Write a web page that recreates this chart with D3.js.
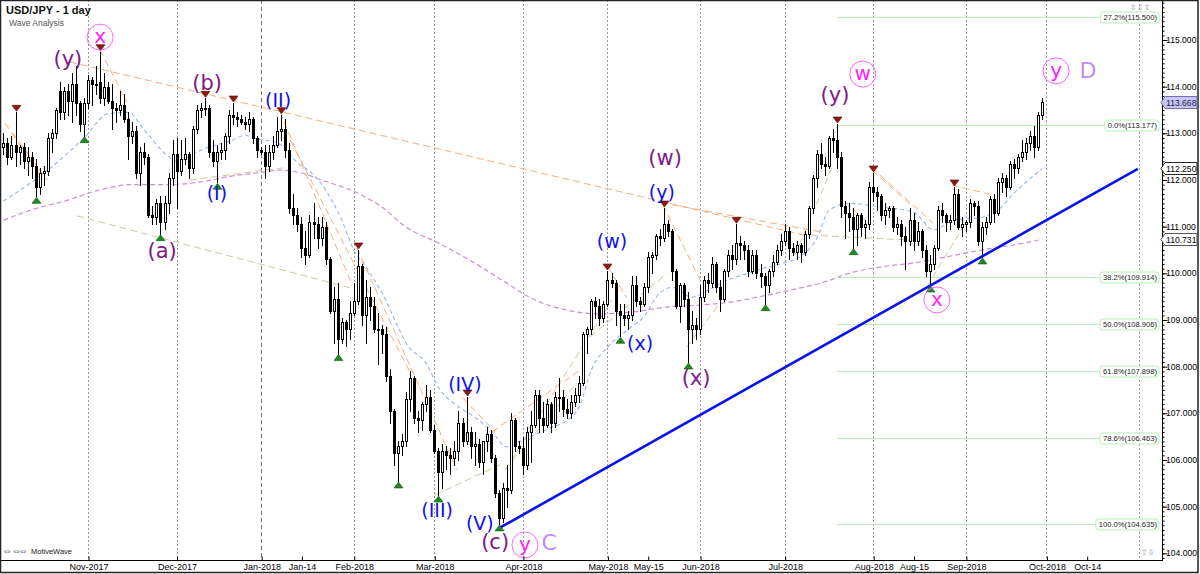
<!DOCTYPE html>
<html><head><meta charset="utf-8">
<script src="https://cdn.jsdelivr.net/npm/d3@7"></script>
<style>
body{margin:0;background:#fff;}
svg{display:block;font-family:"Liberation Sans",Arial,sans-serif;}
</style>
</head><body>
<svg id="c" width="1200" height="574"></svg>
<script>
// ---------------- DATA ----------------
const firstBarDate = "2017-10-03"; // bars are consecutive weekdays from here
const opens = [
// Oct 2017
112.70,112.80,112.50,112.75,112.60,112.70,112.40,112.50,112.30,111.85,112.15,112.20,112.90,113.00,113.90,113.45,113.90,113.70,114.05,113.65,113.20,
// Nov
113.65,114.15,114.05,114.10,113.75,114.00,113.70,113.55,113.50,113.60,113.30,112.95,113.05,112.15,112.60,112.50,111.25,111.20,111.50,111.10,111.50,112.05,
// Dec
112.55,112.20,112.45,112.55,112.25,113.10,113.50,113.55,113.55,112.60,112.40,112.60,112.65,112.95,113.40,113.35,113.30,113.25,113.20,113.30,112.90,
// Jan 2018
112.65,112.60,112.30,112.60,112.75,113.05,113.10,112.65,111.40,111.25,111.05,110.55,110.40,111.10,111.05,110.75,111.00,110.30,109.20,109.45,108.60,108.95,108.80,
// Feb
109.15,109.40,110.15,109.10,109.50,109.30,108.80,108.80,108.70,107.80,107.05,106.15,106.30,106.40,107.30,107.75,106.90,106.85,107.20,107.35,
// Mar
106.65,106.20,105.75,106.20,106.10,106.05,106.20,106.80,106.40,106.60,106.30,106.35,105.95,106.40,106.55,106.05,105.30,104.75,105.40,105.35,106.85,106.30,
// Apr
106.25,105.90,106.60,106.75,107.40,106.90,106.75,107.20,106.80,107.35,107.35,107.10,107.00,107.25,107.40,107.65,108.70,108.80,109.40,109.30,109.05,
// May
109.35,109.85,109.80,109.20,109.10,109.05,109.10,109.75,109.40,109.35,109.70,110.35,110.40,110.80,110.75,111.05,110.90,110.05,109.30,109.75,109.45,108.80,108.90,
// Jun
108.80,109.50,109.85,109.80,110.20,109.70,109.45,110.05,110.40,110.30,110.65,110.60,110.50,110.05,110.40,110.00,109.95,109.75,110.05,110.25,110.50,
// Jul
110.70,110.90,110.55,110.45,110.60,110.45,110.85,111.40,112.05,112.55,112.35,112.30,112.90,112.85,112.50,111.45,111.30,111.20,110.95,111.25,111.00,111.05,
// Aug
111.85,111.75,111.65,111.25,111.35,111.40,111.00,111.05,110.80,110.70,111.15,110.70,110.90,110.50,110.05,110.20,110.55,111.35,111.25,111.10,111.15,111.70,111.00,
// Sep
111.05,111.10,111.50,111.45,110.70,111.00,111.10,111.60,111.30,111.95,112.05,111.85,112.35,112.25,112.50,112.60,112.80,112.95,112.70,113.40
];
const highs = [
113.00,112.90,112.95,113.45,112.75,112.80,112.70,112.60,112.45,112.25,112.30,113.00,113.10,113.55,114.10,114.00,114.05,114.30,114.45,113.70,113.75,
114.25,114.20,114.45,114.75,114.30,114.10,114.05,113.65,113.90,113.85,113.45,113.25,113.15,112.70,112.80,112.55,111.45,111.60,111.65,111.65,112.15,112.85,
112.90,112.85,112.90,112.60,113.15,113.60,113.65,113.75,113.60,112.85,112.75,112.80,113.00,113.50,113.65,113.45,113.40,113.35,113.45,113.35,112.95,
112.70,112.75,112.75,112.95,113.35,113.40,113.30,112.80,111.70,111.40,111.20,110.90,111.25,111.50,111.20,111.20,111.10,110.35,109.70,109.80,109.05,109.00,109.40,
109.80,110.50,110.20,109.85,109.70,109.50,109.15,108.90,108.85,107.95,107.10,106.40,106.55,107.45,107.90,107.80,107.05,107.25,107.60,107.50,
106.75,106.25,106.35,106.30,106.25,106.40,107.05,106.90,107.35,106.70,106.60,106.45,106.40,106.70,106.65,106.10,105.35,105.50,105.90,107.00,106.90,106.40,
106.50,106.70,107.05,107.50,107.50,107.25,107.30,107.25,107.45,107.75,107.50,107.30,107.40,107.55,107.80,108.75,108.85,109.45,109.50,109.45,109.40,
110.05,110.00,109.85,109.35,109.35,109.20,109.95,109.95,109.50,109.80,110.45,110.45,110.85,110.95,111.40,111.15,110.95,110.10,109.80,109.80,109.60,109.20,109.05,
109.75,109.95,110.00,110.35,110.25,109.85,110.10,110.50,110.60,111.05,110.80,110.70,110.60,110.50,110.50,110.20,110.00,110.10,110.40,110.60,110.85,
111.05,111.00,110.65,110.70,110.65,110.90,111.45,112.10,112.65,112.80,112.50,112.95,113.10,113.20,112.60,111.55,111.50,111.40,111.30,111.30,111.15,111.95,
112.15,111.85,111.70,111.50,111.45,111.45,111.20,111.15,111.00,111.40,111.30,111.10,110.95,110.60,110.40,110.60,111.45,111.50,111.30,111.25,111.85,111.80,111.20,
111.15,111.60,111.55,111.55,111.10,111.20,111.65,111.70,112.05,112.15,112.10,112.40,112.45,112.55,112.85,112.90,113.05,113.15,113.45,113.75
];
const lows = [
112.55,112.35,112.45,112.30,112.35,112.25,112.10,112.05,111.65,111.70,111.90,112.10,112.60,112.90,113.30,113.30,113.40,113.25,113.40,113.05,112.95,
113.55,113.60,113.85,113.65,113.60,113.65,113.10,113.25,113.40,113.25,112.45,112.80,112.05,111.90,112.35,111.20,111.05,111.05,110.85,110.95,111.30,111.90,
111.40,112.10,112.35,112.05,112.15,113.00,113.35,113.40,112.50,112.30,111.95,112.45,112.45,112.80,113.20,113.15,113.20,113.10,113.05,112.80,112.50,
112.55,112.05,112.20,112.45,112.70,112.85,112.50,111.30,111.05,110.90,110.35,110.20,110.35,110.75,110.55,110.60,110.20,109.15,108.50,108.28,108.50,108.45,108.60,
109.10,109.35,108.90,108.50,109.00,108.75,108.05,108.30,107.70,106.80,105.90,105.55,106.10,106.30,107.05,106.80,106.60,106.65,107.05,106.60,
106.15,105.25,105.40,105.80,105.70,105.90,106.00,106.30,106.35,106.05,105.90,105.85,105.70,106.20,105.95,105.20,104.63,104.68,105.00,105.30,106.20,106.15,
105.70,105.80,105.95,106.70,106.60,106.60,106.70,106.60,106.70,107.05,106.95,106.90,106.90,107.15,107.25,107.60,108.30,108.70,109.05,108.90,108.95,
109.30,109.70,108.90,108.65,108.90,108.80,109.00,109.30,109.20,109.30,109.60,110.00,110.30,110.60,110.70,110.80,109.85,109.25,108.95,109.30,108.10,108.50,108.60,
108.70,109.40,109.60,109.70,109.60,109.20,109.40,109.95,110.10,110.20,110.30,110.30,109.95,110.00,109.90,109.70,109.35,109.60,109.95,110.20,110.40,
110.60,110.30,110.40,110.30,110.25,110.40,110.75,111.30,111.85,112.25,112.10,112.25,112.60,112.25,111.20,110.75,110.90,110.55,110.60,110.80,110.75,110.95,
111.55,111.35,111.15,111.05,111.20,110.90,110.85,110.60,110.10,110.60,110.50,110.60,110.35,109.95,109.75,110.10,110.50,111.10,110.90,110.95,111.05,110.95,110.80,
110.90,111.00,111.25,110.60,110.35,110.85,111.05,111.10,111.25,111.75,111.65,111.80,112.05,112.15,112.40,112.45,112.65,112.50,112.65,113.30
];
const closes = [
112.80,112.50,112.75,112.60,112.70,112.40,112.50,112.30,111.85,112.15,112.20,112.90,113.00,113.50,113.45,113.90,113.70,114.05,113.65,113.20,113.65,
114.15,114.05,114.05,113.75,114.00,113.70,113.55,113.50,113.60,113.30,112.95,113.05,112.15,112.60,112.50,111.25,111.20,111.50,111.10,111.50,112.05,112.55,
112.20,112.45,112.55,112.25,113.10,113.50,113.55,113.55,112.60,112.40,112.60,112.65,112.95,113.40,113.35,113.30,113.25,113.20,113.30,112.90,112.65,
112.60,112.30,112.60,112.75,113.05,113.10,112.65,111.40,111.25,111.05,110.55,110.40,111.10,111.05,110.75,111.00,110.30,109.20,109.45,108.60,108.95,108.80,109.15,
109.40,110.15,109.10,109.50,109.30,108.80,108.80,108.70,107.80,107.05,106.15,106.30,106.40,107.30,107.75,106.90,106.85,107.20,107.35,106.65,
106.20,105.75,106.20,106.10,106.05,106.20,106.80,106.40,106.60,106.30,106.35,105.95,106.40,106.55,106.05,105.30,104.75,105.40,105.35,106.85,106.30,106.25,
105.90,106.60,106.75,107.40,106.90,106.75,107.20,106.80,107.35,107.35,107.10,107.00,107.25,107.40,107.65,108.70,108.80,109.40,109.30,109.05,109.35,
109.85,109.80,109.20,109.10,109.05,109.10,109.75,109.40,109.35,109.70,110.35,110.40,110.80,110.75,111.05,110.90,110.05,109.30,109.75,109.45,108.80,108.90,108.80,
109.50,109.85,109.80,110.20,109.70,109.45,110.05,110.40,110.30,110.65,110.60,110.50,110.05,110.40,110.00,109.95,109.75,110.05,110.25,110.50,110.70,
110.90,110.55,110.45,110.60,110.45,110.85,111.40,112.05,112.55,112.35,112.30,112.90,112.85,112.50,111.45,111.30,111.20,110.95,111.25,111.00,111.05,111.85,
111.75,111.65,111.25,111.35,111.40,111.00,111.05,110.80,110.70,111.15,110.70,110.90,110.50,110.05,110.20,110.55,111.35,111.25,111.10,111.15,111.70,111.00,111.05,
111.10,111.50,111.45,110.70,111.00,111.10,111.60,111.30,111.95,112.05,111.85,112.35,112.25,112.50,112.60,112.80,112.95,112.70,113.40,113.67
];

// moving averages (bar number, value)
const fastMaBars   = [0,12,20,26,31,35,41,43,49,57,60,63,68,74,75,80,84,87,90,94,98,100,105,108,113,117,121,125,129,133,136,140,143,146,150,155,159,163,166,171,175,180,185,190,193,199,202,205,210,218,226,231,236,243,247,251,258];
const fastMaValues = [111.55,112.28,112.90,113.42,113.45,113.07,112.50,112.40,112.64,112.86,112.96,112.88,112.80,112.30,112.25,111.79,111.14,110.50,110.14,109.58,108.85,108.50,108.07,107.56,107.14,106.92,106.64,106.28,106.43,106.58,106.70,106.85,107.14,107.93,108.42,108.79,109.07,109.58,109.70,109.49,109.64,109.86,110.00,110.14,110.20,110.43,110.75,111.35,111.50,111.42,111.31,110.93,111.14,111.20,111.36,111.72,112.25];
const slowMaBars   = [0,7,16,24,32,41,49,57,63,69,74,79,88,94,100,108,117,125,131,140,148,156,165,173,181,190,198,203,210,218,226,234,243,251,258];
const slowMaValues = [111.14,111.36,111.57,111.79,111.90,111.90,111.96,112.09,112.15,112.21,112.15,112.00,111.72,111.42,110.99,110.65,110.22,109.79,109.47,109.21,109.13,109.17,109.28,109.32,109.39,109.54,109.69,109.79,110.00,110.14,110.22,110.35,110.50,110.61,110.73];

// swing markers (dates of bars)
const swingHighDates = ["2017-10-06","2017-11-06","2017-12-12","2017-12-21","2018-01-08","2018-02-02","2018-03-13","2018-05-01","2018-05-21","2018-06-14","2018-07-19","2018-08-01","2018-08-29"];
const swingLowDates  = ["2017-10-13","2017-10-31","2017-11-27","2017-12-15","2018-01-26","2018-02-16","2018-03-02","2018-03-23","2018-05-04","2018-05-29","2018-06-25","2018-07-25","2018-08-21","2018-09-07"];

// bottom axis
const tickDates  = ["2017-11-01","2017-12-01","2018-01-01","2018-01-14","2018-02-01","2018-03-01","2018-04-01","2018-05-01","2018-05-15","2018-06-01","2018-07-01","2018-08-01","2018-08-15","2018-09-01","2018-10-01","2018-10-14"];
const tickLabels = ["Nov-2017","Dec-2017","Jan-2018","Jan-14","Feb-2018","Mar-2018","Apr-2018","May-2018","May-15","Jun-2018","Jul-2018","Aug-2018","Aug-15","Sep-2018","Oct-2018","Oct-14"];
const monthStarts = ["2017-11-01","2017-12-01","2018-01-01","2018-02-01","2018-03-01","2018-04-01","2018-05-01","2018-06-01","2018-07-01","2018-08-01","2018-09-01","2018-10-01","2018-11-01"];
const priceTicks = [104,105,106,107,108,109,110,111,112,113,114,115];

// fibonacci
const fibStartDate = "2018-07-19";
const fibNames  = ["27.2%","0.0%","38.2%","50.0%","61.8%","78.6%","100.0%"];
const fibLevels = [115.500,113.177,109.914,108.906,107.898,106.463,104.635];

// price tags
const tagValues = [113.668,112.250,110.731];

// wave lines: [barIndexFrom, priceFrom, barIndexTo, priceTo]
const orangeLines = [
 [17.5,114.53,200.8,110.80],[164.5,111.51,203.8,110.89],[69.7,113.46,87.6,109.75],[72.2,112.86,101.9,107.89],
 [88.8,110.54,113.6,105.79],[115.1,107.33,123.1,106.60],[122.3,106.60,144.9,107.97],[25,114.79,31.7,113.65],
 [216.7,112.26,231.8,111.08],[236.5,111.89,246.7,111.68],[1.4,113.22,10.8,112.0],[3.4,113.0,11.8,112.0],
 [164.8,111.46,174,109.86],[151.1,110.14,155.8,109.47],[210,111.53,215.7,111.08],[216.7,112.21,226.9,111.42]
];
const tanLines = [
 [19.3,111.23,87.1,109.69],[47.3,112.0,70.4,112.26],[108.2,105.25,124.3,105.9],[125.6,105.79,152.1,109.43],
 [127.5,106.0,143.4,107.65],[170.7,108.42,178.9,109.36],[201.3,110.82,226.9,110.71],[197.6,110.39,207,112.32],
 [230.3,109.71,240.3,111.14],[146.7,108.64,165.8,110.0]
];
const trendLine = [124.3,104.55,282.7,112.24];

// wave labels: text, barIndex, price, colour key
const waveText   = ["(y)","x","(b)","(II)","(I)","(a)","(IV)","(III)","(V)","(c)","y","C","(w)","(x)","(y)","(w)","(x)","(y)","w","x","y","D"];
const waveBar    = [17.0,25.0,51.6,69.2,54.0,40.4,115.6,108.7,119.3,123.1,130.5,136.5,152.1,159.1,164.5,165.3,173.0,207.5,214.4,232.8,262.4,270.3];
const wavePrice  = [114.59,115.06,114.08,113.71,111.72,110.48,107.63,104.93,104.65,104.24,104.18,104.24,110.69,108.51,111.74,112.47,107.76,113.82,114.27,109.43,114.34,114.34];
const waveKind   = ["p","m","p","b","b","p","b","b","b","p","m","l","b","b","b","p","p","p","m","m","m","l"];

// ---------------- CHART ----------------
const svg = d3.select("#c");
const plotR = 1162, plotB = 560;
const barW = 4.027;
const x = d3.scaleLinear().domain([0, 1]).range([-0.6, -0.6 + barW]);
const y = d3.scaleLinear().domain([115, 104]).range([40, 553.33]);

const base = Date.UTC(2017, 9, 2);
function gOf(s) {
  const [Y, M, D] = s.split("-").map(Number);
  const t = Date.UTC(Y, M - 1, D);
  let n = 0;
  for (let d = base; d < t; d += 864e5) { const wd = new Date(d).getUTCDay(); if (wd !== 0 && wd !== 6) n++; }
  return n;
}
const g0 = gOf(firstBarDate);
const bars = opens.map((o, i) => ({ g: g0 + i, o, h: highs[i], l: lows[i], c: closes[i] }));

svg.append("rect").attr("width", 1200).attr("height", 574).attr("fill", "#fff");

svg.append("defs").append("clipPath").attr("id", "pc")
  .append("rect").attr("x", 0).attr("y", 0).attr("width", plotR).attr("height", plotB);
const plot = svg.append("g").attr("clip-path", "url(#pc)");

// month gridlines
plot.selectAll("line.grid").data(monthStarts).join("line")
  .attr("x1", d => Math.round(x(gOf(d))) + 0.5).attr("x2", d => Math.round(x(gOf(d))) + 0.5)
  .attr("y1", 0).attr("y2", plotB)
  .attr("stroke", d => d === "2018-01-01" ? "#777" : "#9a9a9a")
  .attr("stroke-dasharray", d => d === "2018-01-01" ? "4,3" : "2,2");

// fib lines
const fx0 = x(gOf(fibStartDate));
plot.selectAll("line.fib").data(fibLevels).join("line")
  .attr("x1", fx0).attr("x2", 1140)
  .attr("y1", d => Math.round(y(d)) + 0.5).attr("y2", d => Math.round(y(d)) + 0.5)
  .attr("stroke", "#b9efb9").attr("stroke-width", 1);

// moving averages
const maLine = d3.line().x(d => x(d[0] + 1)).y(d => y(d[1])).curve(d3.curveMonotoneX);
plot.append("path").datum(slowMaBars.map((b, i) => [b, slowMaValues[i]]))
  .attr("d", maLine).attr("fill", "none").attr("stroke", "#cc8fd0").attr("stroke-width", 1.2).attr("stroke-dasharray", "5,3");
plot.append("path").datum(fastMaBars.map((b, i) => [b, fastMaValues[i]]))
  .attr("d", maLine).attr("fill", "none").attr("stroke", "#93b2f5").attr("stroke-width", 1.1).attr("stroke-dasharray", "4,3");

// wave lines
function segs(arr, col) {
  plot.append("g").selectAll("line").data(arr).join("line")
    .attr("x1", d => x(d[0])).attr("y1", d => y(d[1]))
    .attr("x2", d => x(d[2])).attr("y2", d => y(d[3]))
    .attr("stroke", col).attr("stroke-width", 1).attr("stroke-dasharray", "7,4");
}
segs(tanLines, "#cfc79a");
segs(orangeLines, "#f6ad7c");

// candles
const cg = plot.append("g");
bars.forEach(b => {
  const cx = Math.round(x(b.g));
  cg.append("line").attr("x1", cx + 0.5).attr("x2", cx + 0.5)
    .attr("y1", Math.round(y(b.h))).attr("y2", Math.round(y(b.l)) + 1)
    .attr("stroke", "#000").attr("stroke-width", 1);
  const ty = Math.round(y(Math.max(b.o, b.c))), by = Math.round(y(Math.min(b.o, b.c)));
  if (b.c >= b.o) {
    cg.append("rect").attr("x", cx - 0.5).attr("y", ty + 0.5).attr("width", 2).attr("height", Math.max(by - ty, 1))
      .attr("fill", "#fff").attr("stroke", "#000").attr("stroke-width", 1);
  } else {
    cg.append("rect").attr("x", cx - 1).attr("y", ty).attr("width", 3).attr("height", Math.max(by - ty, 1) + 1)
      .attr("fill", "#000");
  }
});

// trend line
plot.append("line")
  .attr("x1", x(trendLine[0])).attr("y1", y(trendLine[1]))
  .attr("x2", x(trendLine[2])).attr("y2", y(trendLine[3]))
  .attr("stroke", "#0a14e6").attr("stroke-width", 2.6);

// swing markers
const byG = new Map(bars.map(b => [b.g, b]));
swingHighDates.forEach(d => {
  const b = byG.get(gOf(d)); const cx = Math.round(x(b.g)) + 0.5, yy = y(b.h) - 1;
  plot.append("path").attr("d", `M${cx - 4.5},${yy - 6}L${cx + 4.5},${yy - 6}L${cx},${yy}Z`)
    .attr("fill", "#8b1a10").attr("stroke", "#5a0a05").attr("stroke-width", 0.6);
});
swingLowDates.forEach(d => {
  const b = byG.get(gOf(d)); const cx = Math.round(x(b.g)) + 0.5, yy = y(b.l) + 1;
  plot.append("path").attr("d", `M${cx - 4.5},${yy + 6}L${cx + 4.5},${yy + 6}L${cx},${yy}Z`)
    .attr("fill", "#1f8a1f").attr("stroke", "#0b5a0b").attr("stroke-width", 0.6);
});

// wave labels
const kindCol = { p: "#7d1a86", b: "#1010f0", m: "#ff22ff", l: "#bf8cf2" };
const kindSize = { p: 21, b: 19, m: 20, l: 22 };
waveText.forEach((t, i) => {
  const k = waveKind[i], lx = x(waveBar[i]), ly = y(wavePrice[i]);
  if (k === "m") {
    plot.append("circle").attr("cx", lx).attr("cy", ly).attr("r", 13)
      .attr("fill", "none").attr("stroke", "#ff66ff").attr("stroke-width", 1);
  }
  plot.append("text").attr("x", lx).attr("y", ly).attr("dy", k === "m" ? "0.3em" : "0.35em")
    .attr("text-anchor", "middle").attr("font-family", "DejaVu Sans, sans-serif")
    .attr("font-size", kindSize[k]).attr("fill", kindCol[k]).text(t);
});

// fib labels
fibLevels.forEach((lv, i) => {
  const yy = Math.round(y(lv)) + 0.5;
  const t = svg.append("text").attr("x", 1157).attr("y", yy).attr("dy", "0.33em").attr("text-anchor", "end")
    .attr("font-size", 7.6).attr("fill", "#222").text(`${fibNames[i]}(${lv.toFixed(3)})`);
  const w = t.node().getComputedTextLength();
  svg.insert("rect", () => t.node()).attr("x", 1157 - w - 3).attr("y", yy - 5.5).attr("width", w + 5).attr("height", 11)
    .attr("rx", 3).attr("fill", "#fff").attr("stroke", "#b9efb9").attr("stroke-width", 1);
});

// axes
const yMinor = d3.axisRight(y).tickValues(d3.range(1039, 1159).map(v => v / 10)).tickSize(2).tickSizeOuter(0).tickFormat("");
const yMajor = d3.axisRight(y).tickValues(priceTicks).tickSize(5).tickSizeOuter(0).tickFormat("");
const ay1 = svg.append("g").attr("transform", `translate(${plotR + 0.5},0)`).call(yMinor);
const ay2 = svg.append("g").attr("transform", `translate(${plotR + 0.5},0)`).call(yMajor);
[ay1, ay2].forEach(a => { a.select(".domain").remove(); a.selectAll("line").attr("stroke", "#000"); });
svg.append("g").selectAll("text").data(priceTicks).join("text")
  .attr("x", plotR + 4).attr("y", d => y(d)).attr("dy", "0.35em").attr("font-size", 8.6).attr("fill", "#000")
  .text(d => d3.format(".3f")(d));

const ax = d3.axisBottom(x).tickValues(tickDates.map(gOf)).tickFormat((d, i) => tickLabels[i])
  .tickSizeInner(-4).tickSizeOuter(0).tickPadding(3);
const axg = svg.append("g").attr("transform", `translate(0.5,${plotB + 0.5})`).call(ax);
axg.select(".domain").remove();
axg.selectAll("line").attr("stroke", "#000");
axg.selectAll("text").attr("font-size", 9).attr("fill", "#000").attr("font-family", "Liberation Sans, Arial, sans-serif");

// frame lines
svg.append("line").attr("x1", 0).attr("x2", plotR + 1).attr("y1", plotB + 0.5).attr("y2", plotB + 0.5).attr("stroke", "#000");
svg.append("line").attr("x1", plotR + 0.5).attr("x2", plotR + 0.5).attr("y1", 0).attr("y2", plotB + 1).attr("stroke", "#000");
svg.append("rect").attr("x", 0.5).attr("y", 0.5).attr("width", 1197.5).attr("height", 572).attr("fill", "none").attr("stroke", "#222").attr("stroke-width", 1.5);

// price tags
tagValues.forEach((v, i) => {
  const yy = Math.round(y(v)) + 0.5;
  const fill = i === 0 ? "#c6c6f2" : "#fff", st = i === 0 ? "#7070b8" : (i === 1 ? "#222" : "#555");
  svg.append("path").attr("d", `M${plotR - 1},${yy}L${plotR + 3},${yy - 6}L${plotR + 35},${yy - 6}L${plotR + 35},${yy + 6}L${plotR + 3},${yy + 6}Z`)
    .attr("fill", fill).attr("stroke", st).attr("stroke-width", 1);
  svg.append("text").attr("x", plotR + 4).attr("y", yy).attr("dy", "0.35em").attr("font-size", 8.6)
    .attr("fill", i === 0 ? "#1c1c50" : "#000").text(d3.format(".3f")(v));
});

// titles and icons
svg.append("text").attr("x", 6).attr("y", 14).attr("font-size", 11).attr("font-weight", "bold").attr("fill", "#111").text("USD/JPY - 1 day");
svg.append("text").attr("x", 9).attr("y", 26).attr("font-size", 8.5).attr("fill", "#555").text("Wave Analysis");
svg.append("text").attr("x", 4).attr("y", 554).attr("font-size", 8).attr("fill", "#888").attr("font-family", "DejaVu Sans, sans-serif").text("⇔ ⇔⇔");
svg.append("text").attr("x", 31).attr("y", 554).attr("font-size", 7.5).attr("fill", "#222").text("MotiveWave");
svg.append("text").attr("x", 1130).attr("y", 10).attr("font-size", 8).attr("fill", "#999").attr("font-family", "DejaVu Sans, sans-serif").text("⇳⇩⇧");
svg.append("text").attr("x", 1141).attr("y", 555).attr("font-size", 8).attr("fill", "#999").attr("font-family", "DejaVu Sans, sans-serif").text("⇧⇩");
</script>
</body></html>
